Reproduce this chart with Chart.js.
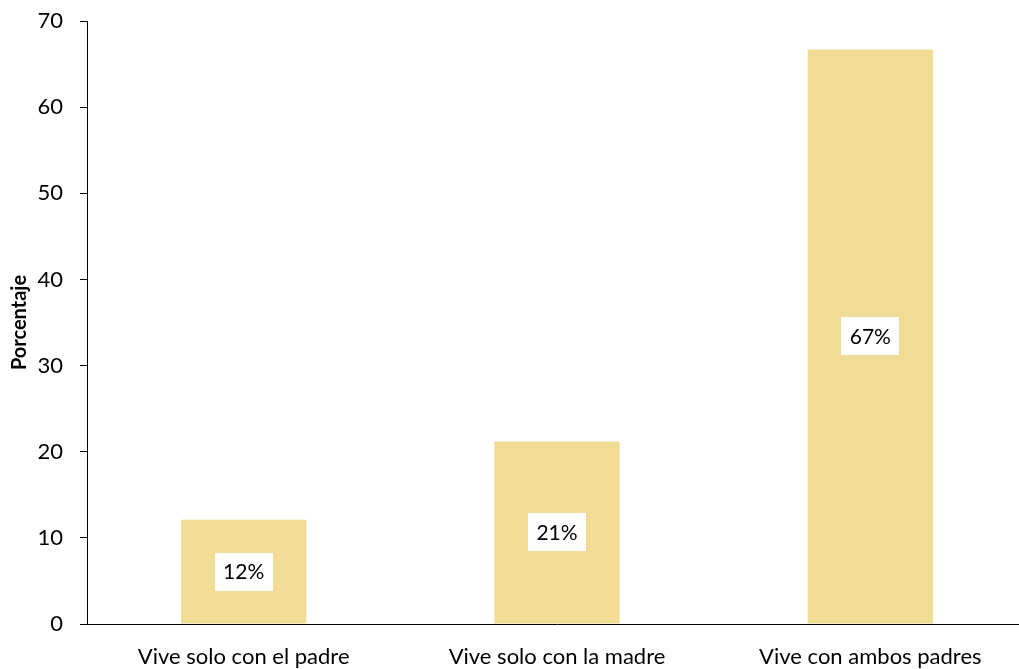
<!DOCTYPE html>
<html>
<head>
<meta charset="utf-8">
<script src="https://cdn.jsdelivr.net/npm/chart.js@4"></script>
<style>
html,body{margin:0;padding:0;background:#fff;overflow:hidden;}
#wrap{position:relative;width:1028px;height:669px;}
</style>
</head>
<body>
<div id="wrap"><canvas id="c"></canvas></div>
<script>
const categories = ["Vive solo con el padre", "Vive solo con la madre", "Vive con ambos padres"];
const values = [12.1, 21.2, 66.7];
const valueLabels = ["12%", "21%", "67%"];
const yTicks = [0, 10, 20, 30, 40, 50, 60, 70];
const axisTitle = "Porcentaje";

const FONT = "Lato, 'Open Sans', sans-serif";

const labelPlugin = {
  id: 'boxLabels',
  afterDatasetsDraw(chart) {
    const ctx = chart.ctx;
    const meta = chart.getDatasetMeta(0);
    ctx.save();
    ctx.font = "21px " + FONT;
    meta.data.forEach((bar, i) => {
      const cx = bar.x;
      const cy = (bar.y + bar.base) / 2;
      const w = 58, h = 38;
      ctx.fillStyle = '#ffffff';
      ctx.fillRect(Math.round(cx - w / 2), Math.round(cy - h / 2), w, h);
      ctx.fillStyle = '#000000';
      ctx.textAlign = 'center';
      ctx.textBaseline = 'middle';
      ctx.fillText(valueLabels[i], cx, cy + 1);
    });
    ctx.restore();
  }
};

new Chart(document.getElementById('c'), {
  type: 'bar',
  data: {
    labels: categories,
    datasets: [{
      data: values,
      backgroundColor: '#F0DC94',
      borderWidth: 0,
      categoryPercentage: 1,
      barPercentage: 0.4
    }]
  },
  options: {
    responsive: true,
    maintainAspectRatio: false,
    animation: false,
    layout: { padding: { top: 21, right: 1, left: 0, bottom: 0 } },
    plugins: { legend: { display: false }, tooltip: { enabled: false } },
    scales: {
      x: {
        grid: { display: false },
        border: { display: true, color: '#000000', width: 1 },
        ticks: { color: '#000000', font: { family: FONT, size: 22 }, padding: 12, maxRotation: 0 },
        afterFit(scale) { scale.height = 45; scale.paddingLeft = 0; scale.paddingRight = 0; }
      },
      y: {
        min: 0,
        max: 70,
        afterBuildTicks(scale) { scale.ticks = yTicks.map(v => ({ value: v })); },
        grid: { drawOnChartArea: false, drawTicks: true, tickLength: 7, color: '#000000' },
        border: { display: true, color: '#000000', width: 1 },
        ticks: { color: '#000000', font: { family: FONT, size: 22 }, padding: 17 },
        title: { display: true, text: axisTitle, color: '#000000', font: { family: FONT, size: 20, weight: 'bold' }, padding: { top: 8, bottom: 0 } },
        afterFit(scale) { scale.width = 87; scale.paddingTop = 0; scale.paddingBottom = 0; }
      }
    }
  },
  plugins: [labelPlugin]
});
</script>
</body>
</html>
